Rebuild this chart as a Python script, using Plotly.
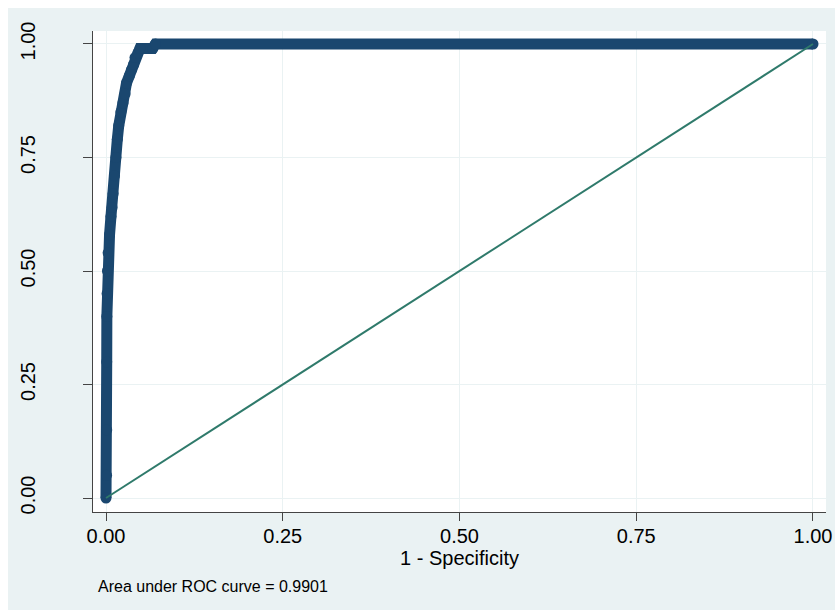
import plotly.graph_objects as go

# ROC curve points (1 - specificity, sensitivity)
fpr = [0.0, 0.0008, 0.001, 0.001, 0.0012, 0.0015, 0.002, 0.003, 0.005, 0.007,
       0.0085, 0.010, 0.012, 0.014, 0.016, 0.018, 0.021, 0.024, 0.027, 0.029,
       0.033, 0.036, 0.039, 0.041, 0.045, 0.048, 0.066, 0.070, 1.0]
tpr = [0.0, 0.05, 0.15, 0.30, 0.40, 0.45, 0.50, 0.54, 0.58, 0.62,
       0.64, 0.67, 0.71, 0.75, 0.79, 0.82, 0.85, 0.87, 0.89, 0.914,
       0.93, 0.943, 0.955, 0.97, 0.98, 0.99, 0.99, 1.0, 1.0]

ref_x = [0.0, 1.0]
ref_y = [0.0, 1.0]

tick_vals = [0.0, 0.25, 0.5, 0.75, 1.0]
tick_text = ["0.00", "0.25", "0.50", "0.75", "1.00"]

auc_text = "Area under ROC curve = 0.9901"
x_title = "1 - Specificity"

BG = "#eaf2f3"
NAVY = "#1a476f"
TEAL = "#2f7a6b"
FONT = "Liberation Sans, Arial, sans-serif"

fig = go.Figure()
fig.add_trace(go.Scatter(
    x=fpr, y=tpr, mode="lines+markers",
    line=dict(color=NAVY, width=11),
    marker=dict(color=NAVY, size=11),
    hoverinfo="skip", showlegend=False,
))
fig.add_trace(go.Scatter(
    x=ref_x, y=ref_y, mode="lines",
    line=dict(color=TEAL, width=2),
    hoverinfo="skip", showlegend=False,
))

W, H = 827, 602
L, R, T, B = 85, 9, 23, 98
pw, ph = W - L - R, H - T - B

def px_x(p):
    return (p - L) / pw

def px_y(p):
    return (H - B - p) / ph

fig.update_layout(
    width=W, height=H,
    margin=dict(l=L, r=R, t=T, b=B, pad=0),
    paper_bgcolor=BG, plot_bgcolor="white",
    font=dict(family=FONT, size=20, color="black"),
    annotations=[dict(
        text=auc_text, xref="paper", yref="paper",
        x=px_x(88), y=px_y(578), xanchor="left", yanchor="middle",
        showarrow=False, font=dict(size=16, color="black", family=FONT),
    )],
)

fig.update_xaxes(
    range=[-0.0184, 1.0184], tickvals=tick_vals, ticktext=tick_text,
    showgrid=True, gridcolor=BG, gridwidth=1, zeroline=False,
    showline=True, linecolor="#444", linewidth=1,
    ticks="outside", ticklen=8, tickcolor="#444", tickwidth=1,
    ticklabelstandoff=-2, automargin=False,
    title=dict(text=x_title, standoff=0, font=dict(size=20)),
)
fig.update_yaxes(
    range=[-0.0308, 1.0286], tickvals=tick_vals, ticktext=tick_text,
    showgrid=True, gridcolor=BG, gridwidth=1, zeroline=False,
    showline=True, linecolor="#444", linewidth=1,
    ticks="outside", ticklen=9, tickcolor="#444", tickwidth=1,
    tickangle=-90, ticklabelstandoff=40, automargin=False,
)

fig.write_html(
    "out.html",
    post_script=(
        "document.body.style.margin='8px 0 0 8px';"
        "document.documentElement.style.overflow='hidden';"
        "document.body.style.overflow='hidden';"
    ),
)
